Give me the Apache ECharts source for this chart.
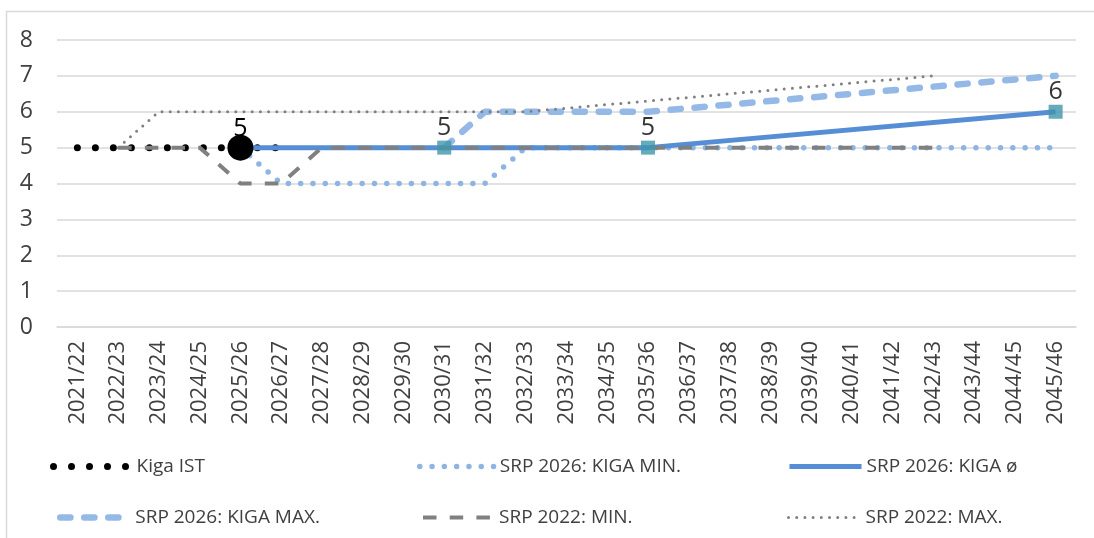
<!DOCTYPE html>
<html>
<head>
<meta charset="utf-8">
<script src="https://cdn.jsdelivr.net/npm/echarts@6/dist/echarts.min.js"></script>
<style>
  html, body { margin: 0; padding: 0; background: #fff; }
  #main { width: 1094px; height: 538px; }
</style>
</head>
<body>
<div id="main"></div>
<script>
// categories (school years)
var categories = ['2021/22', '2022/23', '2023/24', '2024/25', '2025/26', '2026/27', '2027/28', '2028/29',
  '2029/30', '2030/31', '2031/32', '2032/33', '2033/34', '2034/35', '2035/36', '2036/37', '2037/38',
  '2038/39', '2039/40', '2040/41', '2041/42', '2042/43', '2043/44', '2044/45', '2045/46'];
var yTicks = [0, 8, 1]; // min, max, interval

// series values, null = no value (line connects over gaps like in excel)
var kigaIst = [5, 5, 5, 5, 5, 5, null, null, null, null, null, null, null, null, null, null, null, null, null, null, null, null, null, null, null];
var kigaMin = [null, null, null, null, 5, 4, 4, 4, 4, 4, 4, 5, 5, 5, 5, 5, 5, 5, 5, 5, 5, 5, 5, 5, 5];
var kigaAvg = [null, null, null, null, 5, null, null, null, null, 5, null, null, null, null, 5, null, null, null, null, null, null, null, null, null, 6];
var kigaMax = [null, null, null, null, null, null, null, null, null, 5, 6, null, null, null, 6, null, null, null, null, null, null, null, null, null, 7];
var srp22Min = [null, 5, 5, 5, 4, 4, 5, 5, 5, 5, 5, 5, 5, 5, 5, 5, 5, 5, 5, 5, 5, 5, null, null, null];
var srp22Max = [null, 5, 6, 6, 6, 6, 6, 6, 6, 6, 6, 6, null, null, null, null, null, null, null, null, null, 7, null, null, null];

var names = ['Kiga IST', 'SRP 2026: KIGA MIN.', 'SRP 2026: KIGA ø', 'SRP 2026: KIGA MAX.', 'SRP 2022: MIN.', 'SRP 2022: MAX.'];

var FONT = '"Open Sans", "Noto Sans", sans-serif';
var myChart = echarts.init(document.getElementById('main'));

// line looks, shared by series and legend icons
var styles = [
  { color: '#000', width: 7, type: [0, 18], cap: 'round' },
  { color: '#8EB4E3', width: 5.5, type: [0, 12.3], cap: 'round' },
  { color: '#558ED5', width: 5, type: 'solid', cap: 'butt' },
  { color: '#95B9E6', width: 6.5, type: [10.2, 13.8], cap: 'round' },
  { color: '#808080', width: 4, type: [13.5, 13.2], cap: 'butt' },
  { color: '#808080', width: 3, type: [0, 8.2], cap: 'round' }
];

// the big marker of the actual value sits on the last real year
var istMarkIdx = 4;
var istData = kigaIst.map(function (v, i) {
  if (i !== istMarkIdx) return v;
  return {
    value: v,
    symbol: 'circle',
    symbolSize: 26,
    itemStyle: { color: '#000' },
    label: { show: true, position: 'inside', offset: [0, -19], fontSize: 25, color: '#000', fontFamily: FONT }
  };
});

// squares of the average line, not on its start point
var avgStart = kigaAvg.findIndex(function (v) { return v !== null; });
var avgSquares = kigaAvg.map(function (v, i) { return i === avgStart ? null : v; });

function legendAt(i, left, top, width) {
  return {
    data: [names[i]],
    left: left,
    top: top,
    padding: 0,
    itemWidth: width,
    itemHeight: 20,
    selectedMode: false,
    itemStyle: { opacity: 0 },
    lineStyle: styles[i],
    textStyle: { fontSize: 19, color: '#404040', fontFamily: FONT }
  };
}

function lineSeries(i, data) {
  return {
    name: names[i], type: 'line', data: data, symbol: 'none', connectNulls: true,
    lineStyle: styles[i],
    itemStyle: { color: styles[i].color }
  };
}

var option = {
  animation: false,
  backgroundColor: '#fff',
  textStyle: { fontFamily: FONT },
  graphic: [{
    type: 'rect',
    silent: true,
    shape: { x: 6.5, y: 11.5, width: 1200, height: 700 },
    style: { fill: 'none', stroke: '#d9d9d9', lineWidth: 1.5 }
  }],
  legend: [
    legendAt(0, 50, 457, 78),
    legendAt(1, 417, 457, 75),
    legendAt(2, 787, 457, 72),
    legendAt(3, 57, 508, 70),
    legendAt(4, 421, 508, 71),
    legendAt(5, 787, 508, 72)
  ],
  grid: { left: 57, right: 18, top: 40, bottom: 211, containLabel: false },
  xAxis: {
    type: 'category',
    data: categories,
    boundaryGap: true,
    axisLine: { show: true, lineStyle: { color: '#d9d9d9', width: 1.5 } },
    axisTick: { show: false },
    axisLabel: { rotate: 90, fontSize: 22, color: '#404040', margin: 14, interval: 0, fontFamily: FONT }
  },
  yAxis: {
    type: 'value',
    min: yTicks[0],
    max: yTicks[1],
    interval: yTicks[2],
    axisLine: { show: false },
    axisTick: { show: false },
    axisLabel: { fontSize: 23, color: '#404040', margin: 24, fontFamily: FONT },
    splitLine: { lineStyle: { color: '#d9d9d9', width: 1.5 } }
  },
  series: [
    lineSeries(0, istData),
    lineSeries(1, kigaMin),
    lineSeries(2, kigaAvg),
    lineSeries(3, kigaMax),
    lineSeries(4, srp22Min),
    lineSeries(5, srp22Max),
    {
      // teal square markers of the average line, on top of everything
      type: 'scatter', data: avgSquares, symbol: 'rect', symbolSize: 14, z: 10,
      itemStyle: { color: '#3F96AB' },
      label: { show: true, position: 'inside', offset: [0, -20], fontSize: 25, color: '#000', fontFamily: FONT }
    }
  ]
};

myChart.setOption(option);
window.addEventListener('resize', function () { myChart.resize(); });
</script>
</body>
</html>
